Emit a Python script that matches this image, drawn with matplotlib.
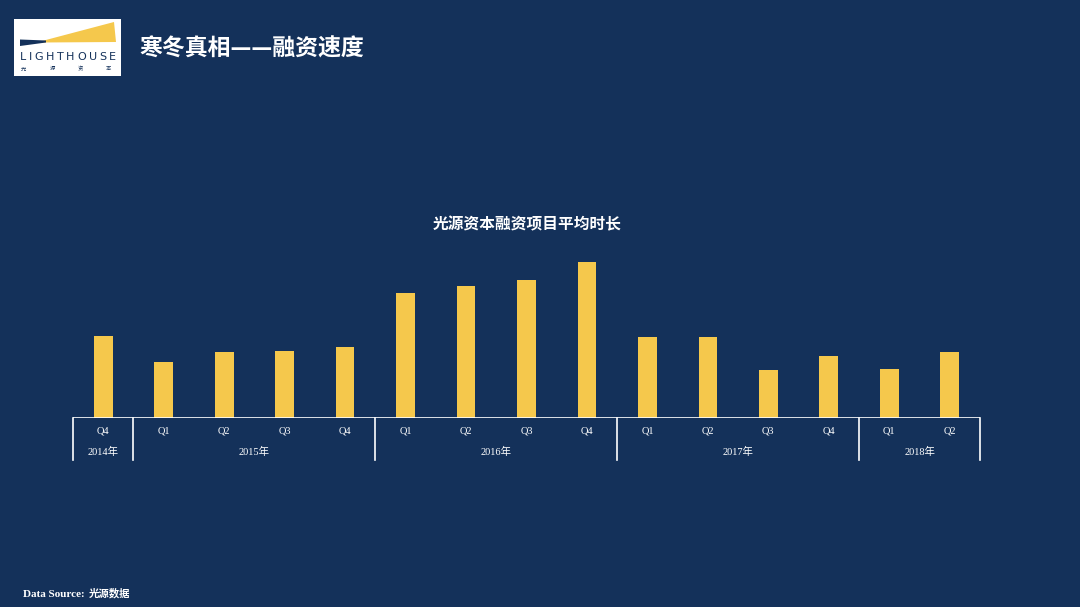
import matplotlib
matplotlib.use('Agg')
import matplotlib.pyplot as plt
import matplotlib.patches as mpatches
from matplotlib.transforms import blended_transform_factory

BG = '#14315A'
BAR = '#F5C84C'
CJK = ['Noto Sans CJK SC', 'DejaVu Sans']
SERIF = ['Liberation Serif', 'Noto Sans CJK SC']

# --- data (relative heights, no axis given) ---
quarters = ['Q4', 'Q1', 'Q2', 'Q3', 'Q4', 'Q1', 'Q2', 'Q3', 'Q4',
            'Q1', 'Q2', 'Q3', 'Q4', 'Q1', 'Q2']
values = [82, 56, 66, 67, 71, 125, 132, 138, 156, 81, 81, 48, 62, 49, 66]
years = ['2014年', '2015年', '2016年', '2017年', '2018年']
year_counts = [1, 4, 4, 4, 2]

W, H = 1080, 607
fig = plt.figure(figsize=(W / 100, H / 100), dpi=100, facecolor=BG)

# background / decoration layer in pixel coords
bg = fig.add_axes([0, 0, 1, 1])
bg.set_xlim(0, W)
bg.set_ylim(H, 0)
bg.axis('off')

# logo
bg.add_patch(mpatches.Rectangle((14, 19), 107, 57, facecolor='white', edgecolor='none'))
bg.add_patch(mpatches.Polygon([[42, 41], [114, 22], [116, 42], [42, 42.5]],
                              facecolor=BAR, edgecolor='none'))
bg.add_patch(mpatches.Polygon([[20, 39.5], [46, 40.5], [46, 42.5], [20, 46]],
                              facecolor=BG, edgecolor='none'))

# LIGHTHOUSE with even letter gaps
r = fig.canvas.get_renderer()
letters = []
for ch in 'LIGHTHOUSE':
    t = bg.text(0, 60.5, ch, fontsize=8, color=BG, ha='left', va='baseline',
                family='DejaVu Sans')
    letters.append((t, t.get_window_extent(r).width))
total = sum(w for _, w in letters)
gap = (96 - total) / 9
cx = 20
for t, w in letters:
    t.set_x(cx)
    cx += w + gap

for xc, ch in zip([23, 52, 80, 108], '光源资本'):
    bg.text(xc, 69, ch, fontsize=3.8, color=BG, ha='center', va='center',
            family=CJK)

bg.text(139, 49, '寒冬真相——融资速度', fontsize=16.5, color='white', fontweight='bold',
        ha='left', va='center', family=CJK)
bg.text(527, 224, '光源资本融资项目平均时长', fontsize=11.3, color='white',
        fontweight='bold', ha='center', va='center', family=CJK)
bg.text(23, 597, 'Data Source:', fontsize=8, color='white', fontweight='bold',
        ha='left', va='baseline', family=SERIF)
bg.text(89, 597, '光源数据', fontsize=7.5, color='white', fontweight='bold',
        ha='left', va='baseline', family=CJK)

# chart
ax = fig.add_axes([73 / W, (H - 418) / H, 907 / W, 170 / H])
ax.set_facecolor('none')
x = list(range(len(values)))
ax.bar(x, values, width=0.31, color=BAR, zorder=2)
ax.set_xlim(-0.5, len(values) - 0.5)
ax.set_ylim(0, 170)
for s in ax.spines.values():
    s.set_visible(False)
ax.set_xticks([])
ax.set_yticks([])

ax.axhline(0, color='white', lw=1.2, zorder=3)
tr = blended_transform_factory(ax.transData, ax.transAxes)
depth = 42 / 170
for xi, q in zip(x, quarters):
    ax.text(xi, -13 / 170, q, transform=tr, fontsize=7.5, color='white',
            ha='center', va='center', family=SERIF)

start = 0
bounds = [-0.5]
for yr, n in zip(years, year_counts):
    mid = start + (n - 1) / 2
    ax.text(mid, -34 / 170, yr, transform=tr, fontsize=7.5, color='white',
            ha='center', va='center', family=SERIF)
    start += n
    bounds.append(start - 0.5)
for b in bounds:
    ax.plot([b, b], [0, -depth], transform=tr, color='white', lw=1.2, clip_on=False)

fig.savefig('out.png', dpi=100, facecolor=BG)
